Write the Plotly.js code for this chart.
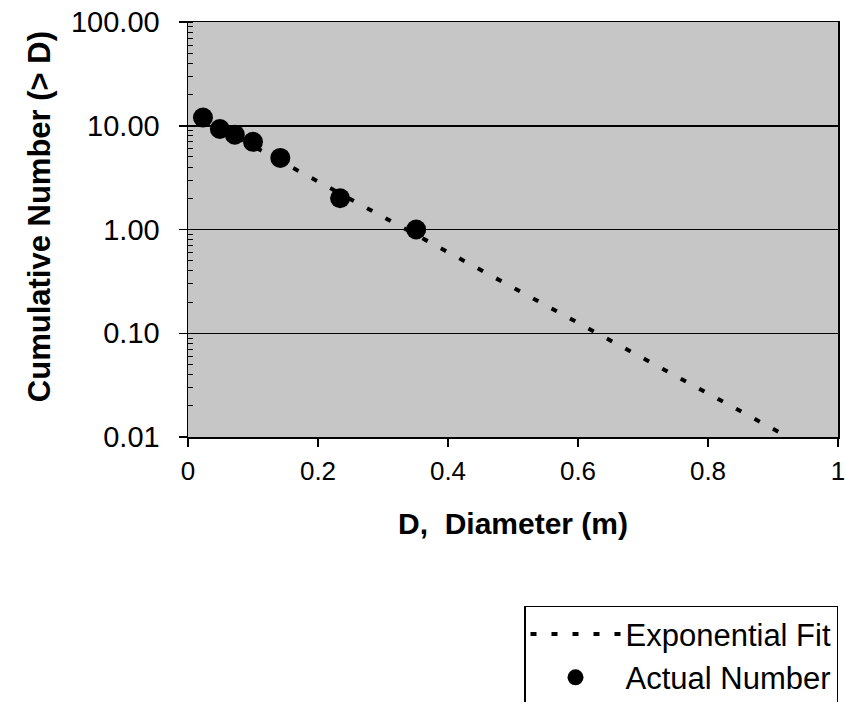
<!DOCTYPE html>
<html>
<head>
<meta charset="utf-8">
<script src="https://cdn.plot.ly/plotly-3.0.1.min.js"></script>
<style>html,body{margin:0;padding:0;background:#fff;}#chart{width:846px;height:702px;}</style>
</head>
<body>
<div id="chart"></div>
<script>
// Actual cumulative counts
const diameters = [0.023, 0.049, 0.072, 0.100, 0.142, 0.234, 0.351];
const counts = [12, 9.3, 8.2, 7.0, 4.9, 2.0, 1.0];
// Exponential fit: straight line on log axis, end points
const fitDiameters = [0.02, 0.95];
const fitCounts = [11.9, 0.0081];
// Tick labels
const yTickVals = [0.01, 0.1, 1, 10, 100];
const yTickText = ['0.01', '0.10', '1.00', '10.00', '100.00'];
const xTickVals = [0, 0.2, 0.4, 0.6, 0.8, 1];
const xTickText = ['0', '0.2', '0.4', '0.6', '0.8', '1'];

const font = 'Arial, "Liberation Sans", Helvetica, sans-serif';

const traces = [
  {
    x: fitDiameters, y: fitCounts, type: 'scatter', mode: 'lines',
    name: 'Exponential Fit', legendgroup: 'a',
    line: {color: '#000', width: 4, dash: '6px,15px'}
  },
  {
    x: diameters, y: counts, type: 'scatter', mode: 'markers',
    name: 'Actual Number', legendgroup: 'b',
    marker: {color: '#000', size: 20, symbol: 'circle'}
  }
];

const layout = {
  width: 846, height: 702,
  margin: {l: 188, r: 8, t: 22, b: 265, autoexpand: false},
  paper_bgcolor: '#fff',
  plot_bgcolor: '#c6c6c6',
  font: {family: font, color: '#000'},
  showlegend: true,
  legend: {
    x: 1, xanchor: 'right', y: -0.407, yanchor: 'top',
    bordercolor: '#000', borderwidth: 1.5, bgcolor: '#fff',
    font: {size: 31, family: font, color: '#000'},
    itemwidth: 90, tracegroupgap: 0, traceorder: 'grouped'
  },
  xaxis: {
    range: [0, 1], tickvals: xTickVals, ticktext: xTickText,
    ticks: 'outside', ticklen: 8, tickwidth: 1.5, tickcolor: '#000',
    ticklabelstandoff: 2,
    showgrid: false, zeroline: false,
    showline: true, mirror: true, linecolor: '#000', linewidth: 1.5,
    tickfont: {size: 26, family: font},
    title: {text: '<b>D,  Diameter (m)</b>', font: {size: 30, family: font}, standoff: 28}
  },
  yaxis: {
    type: 'log', range: [-2, 2], tickvals: yTickVals, ticktext: yTickText,
    ticks: 'outside', ticklen: 8, tickwidth: 1.5, tickcolor: '#000',
    ticklabelstandoff: 13,
    showgrid: true, gridcolor: '#000', gridwidth: 1.5, zeroline: false,
    showline: true, mirror: true, linecolor: '#000', linewidth: 1.5,
    tickfont: {size: 29, family: font},
    minor: {ticks: 'inside', ticklen: 5, tickcolor: '#000', tickwidth: 1, showgrid: false, dtick: 'D1'},
    title: {text: '<b>\u00a0\u00a0\u00a0Cumulative Number (> D)</b>', font: {size: 31, family: font}, standoff: 11}
  }
};

Plotly.newPlot('chart', traces, layout, {displayModeBar: false, staticPlot: true});
</script>
</body>
</html>
